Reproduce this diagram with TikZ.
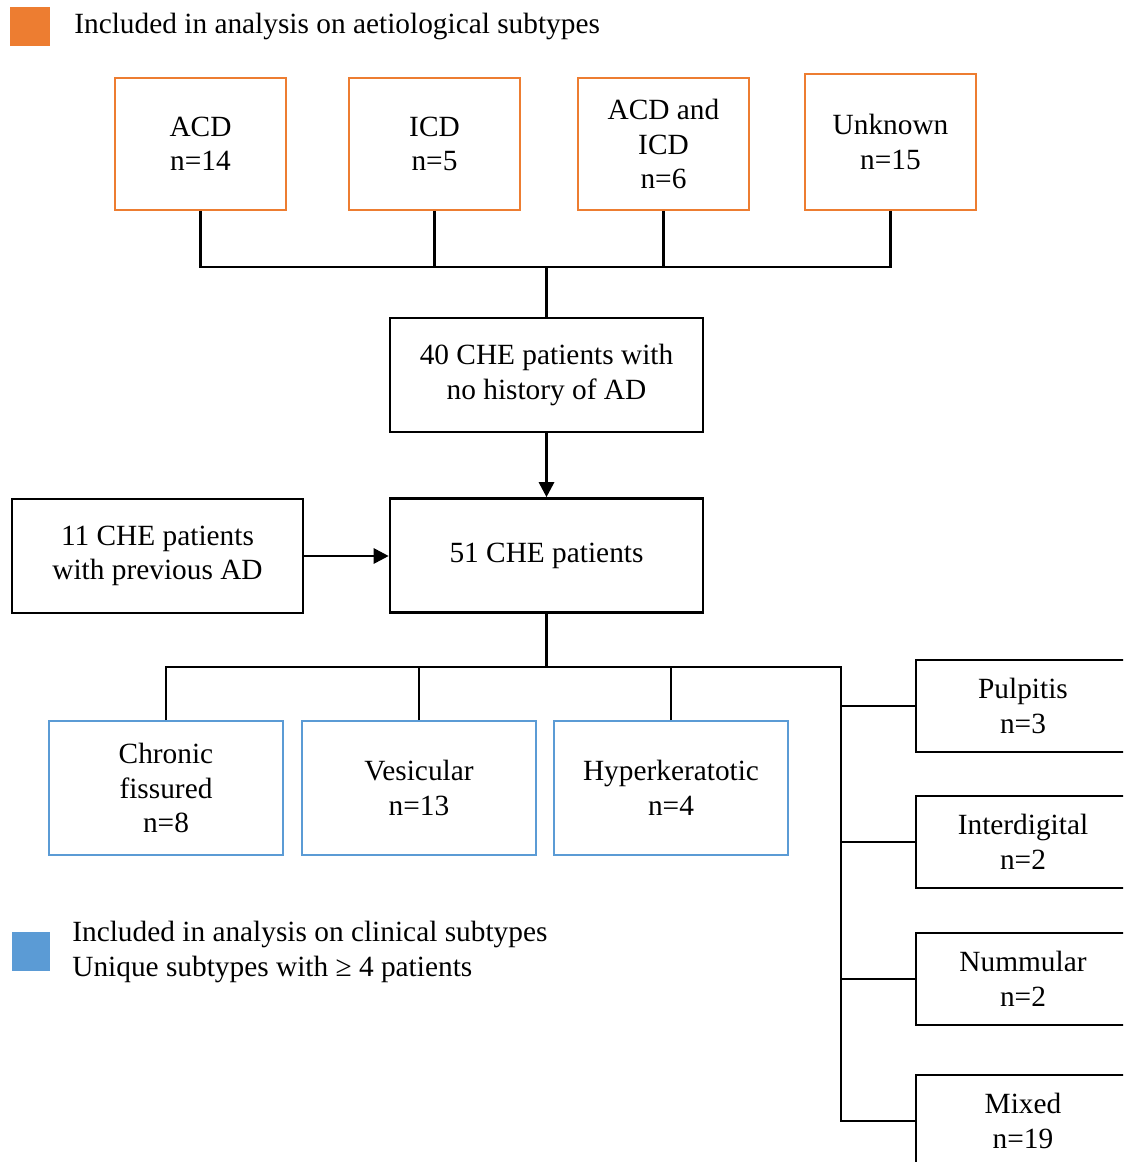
\documentclass[tikz,border=0pt]{standalone}
\usepackage{fontspec}
\setmainfont{Liberation Serif}
\usetikzlibrary{arrows.meta}
\definecolor{aetiol}{HTML}{ED7D31}
\definecolor{clin}{HTML}{5B9BD5}
\tikzset{
  txt/.style={font=\fontsize{16.7}{19.6}\selectfont, align=center, inner sep=0pt},
  obox/.style={txt, draw=aetiol, line width=1.1pt, minimum width=3.42cm, minimum height=2.64cm},
  bbox/.style={txt, draw=clin, line width=1.1pt, minimum width=4.68cm, minimum height=2.68cm},
  kbox/.style={txt, draw=black, line width=1.5pt, minimum width=6.26cm, minimum height=2.28cm},
  sbox/.style={txt, draw=black, line width=1.5pt, minimum width=4.28cm, minimum height=1.84cm},
  conn/.style={line width=1.6pt},
  arr/.style={conn, -{Triangle[length=0.3cm, width=0.3cm]}}
}
\begin{document}
\begin{tikzpicture}[x=0.02cm, y=-0.02cm]
\useasboundingbox (0,0) rectangle (1123,1162);
\clip (0,0) rectangle (1123,1162);

% legends
\fill[aetiol] (10,7) rectangle (50,46);
\node[txt, anchor=west] (legaet) at (74,26) {Included in analysis on aetiological subtypes};
\fill[clin] (12,932) rectangle (50,971);
\node[txt, anchor=west, align=left, font=\fontsize{16.7}{20.4}\selectfont] (legclin) at (72,952)
  {Included in analysis on clinical subtypes\\Unique subtypes with ≥ 4 patients};

% aetiological subtypes
\node[obox] (acd) at (200.5,144) {ACD\\n=14};
\node[obox] (icd) at (434.5,144) {ICD\\n=5};
\node[obox] (both) at (663.5,144) {ACD and\\ICD\\n=6};
\node[obox, minimum height=2.72cm] (unknown) at (890.5,142) {Unknown\\n=15};

\node[kbox] (noad) at (546.5,375) {40 CHE patients with\\no history of AD};
\node[kbox] (all) at (546.5,555.5) {51 CHE patients};
\node[kbox, minimum width=5.82cm] (prevad) at (157.5,556) {11 CHE patients\\with previous AD};

\coordinate (jtop) at (546.5,267);
\draw[conn] (acd.south) |- (jtop);
\draw[conn] (icd.south) |- (jtop);
\draw[conn] (both.south) |- (jtop);
\draw[conn] (unknown.south) |- (jtop);
\draw[conn] (jtop) -- (noad.north);
\draw[arr] (noad.south) -- (all.north);
\draw[arr] (prevad.east) -- (all.west |- prevad.east);

% clinical subtypes
\node[bbox] (chronic) at (166,788) {Chronic\\fissured\\n=8};
\node[bbox] (vesic) at (419,788) {Vesicular\\n=13};
\node[bbox] (hyper) at (671,788) {Hyperkeratotic\\n=4};

\node[sbox] (pulp) at (1023,706) {Pulpitis\\n=3};
\node[sbox] (inter) at (1023,842) {Interdigital\\n=2};
\node[sbox] (numm) at (1023,979) {Nummular\\n=2};
\node[sbox] (mixed) at (1023,1121) {Mixed\\n=19};

\coordinate (jbot) at (546.5,667);
\coordinate (jright) at (841,667);
\draw[conn] (all.south) -- (jbot);
\draw[conn] (chronic.north) |- (jbot);
\draw[conn] (vesic.north) |- (jbot);
\draw[conn] (hyper.north) |- (jbot);
\draw[conn] (jbot) -- (jright) |- (mixed.west);
\draw[conn] (jright) |- (pulp.west);
\draw[conn] (jright) |- (inter.west);
\draw[conn] (jright) |- (numm.west);
\end{tikzpicture}
\end{document}
